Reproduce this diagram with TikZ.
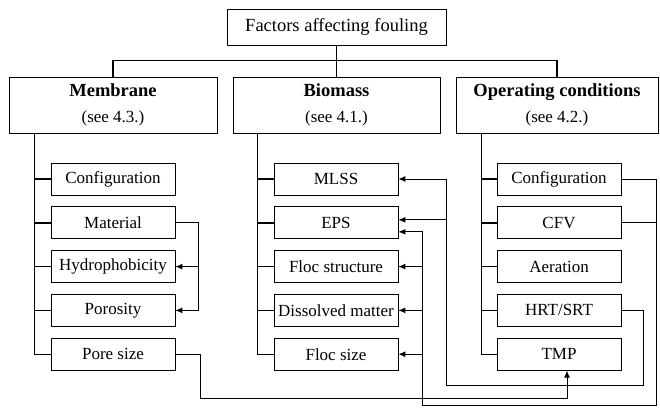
\documentclass[tikz,border=0pt]{standalone}
\usepackage{fontspec}
\setmainfont{Liberation Serif}
\usetikzlibrary{positioning,arrows.meta,calc}

\begin{document}
\begin{tikzpicture}[x=1pt,y=-1pt]
\tikzset{
  head/.style={draw,line width=0.8pt,minimum width=#1,minimum height=56pt,align=center,inner sep=0pt,font=\fontsize{17}{26}\selectfont},
  item/.style={draw,line width=0.8pt,minimum width=124pt,minimum height=32pt,inner sep=1pt,font=\fontsize{17}{20}\selectfont},
  trunk/.style={line width=1.4pt},
  link/.style={line width=1pt,-{Latex[length=7pt,width=6pt]}},
  node distance=11pt
}
\useasboundingbox (0,0) rectangle (660,410);

% title and the three groups
\node[draw,line width=0.8pt,minimum width=219pt,minimum height=36pt,font=\fontsize{18.5}{20}\selectfont] (top) at (336.5,27) {Factors affecting fouling};
\node[head=208pt] (mem) at (113,105) {{\fontsize{18.5}{26}\selectfont\bfseries Membrane}\\(see 4.3.)};
\node[head=207pt] (bio) at (336.5,105) {{\fontsize{18.5}{26}\selectfont\bfseries Biomass}\\(see 4.1.)};
\node[head=202pt] (op) at (557,105) {{\fontsize{18.5}{26}\selectfont\bfseries Operating conditions}\\(see 4.2.)};

\draw[trunk] (top.south) -- (bio.north);
\draw[trunk] (mem.north) -- ++(0,-16) -| (op.north);

% membrane
\node[item] (mconf) at (113,179) {Configuration};
\node[item,below=of mconf] (mmat) {Material};
\node[item,below=of mmat] (mhyd) {Hydrophobicity};
\node[item,below=of mhyd] (mpor) {Porosity};
\node[item,below=of mpor] (mpore) {Pore size};

% biomass
\node[item] (bmlss) at (336,179) {MLSS};
\node[item,below=of bmlss] (beps) {EPS};
\node[item,below=of beps] (bfloc) {Floc structure};
\node[item,below=of bfloc] (bdis) {Dissolved matter};
\node[item,below=of bdis] (bsize) {Floc size};

% operating conditions
\node[item] (oconf) at (559,179) {Configuration};
\node[item,below=of oconf] (ocfv) {CFV};
\node[item,below=of ocfv] (oair) {Aeration};
\node[item,below=of oair] (ohrt) {HRT/SRT};
\node[item,below=of ohrt] (otmp) {TMP};

% trunks
\draw[trunk] (mpore.west) -- ++(-16,0) coordinate (mt) -- (mt |- mem.south);
\foreach \n in {mconf,mmat,mhyd,mpor} \draw[trunk] (\n.west) -- ++(-16,0);
\draw[trunk] (bsize.west) -- ++(-16,0) coordinate (bt) -- (bt |- bio.south);
\foreach \n in {bmlss,beps,bfloc,bdis} \draw[trunk] (\n.west) -- ++(-16,0);
\draw[trunk] (otmp.west) -- ++(-15,0) coordinate (ot) -- (ot |- op.south);
\foreach \n in {oconf,ocfv,oair,ohrt} \draw[trunk] (\n.west) -- ++(-15,0);

% cross links
\draw[link] (mmat.east) -| ([xshift=23pt]mpor.east) -- (mpor.east);
\draw[link] ([xshift=23pt]mhyd.east) -- (mhyd.east);
\draw[link] (mpore.east) -- ++(25,0) -- ++(0,44) -| ([xshift=8pt]otmp.south);

\coordinate (epsA) at ($(beps.east)+(0,-3)$);
\coordinate (epsB) at ($(beps.east)+(0,9)$);
\coordinate (hb) at ($(bmlss.east)+(48,0)$);
\coordinate (lb) at ($(epsB)+(24,0)$);

\draw[link] (ohrt.east) -- ++(22,0) -- ++(0,75) -| (hb) -- (bmlss.east);
\draw[link] (hb |- epsA) -- (epsA);

\draw[link] (oconf.east) -- ++(35,0) -- ++(0,226) -| (lb) -- (epsB);
\draw[line width=1pt] (ocfv.east) -- ++(35,0);
\foreach \n in {bfloc,bdis,bsize} \draw[link] (lb |- \n.east) -- (\n.east);
\end{tikzpicture}
\end{document}
